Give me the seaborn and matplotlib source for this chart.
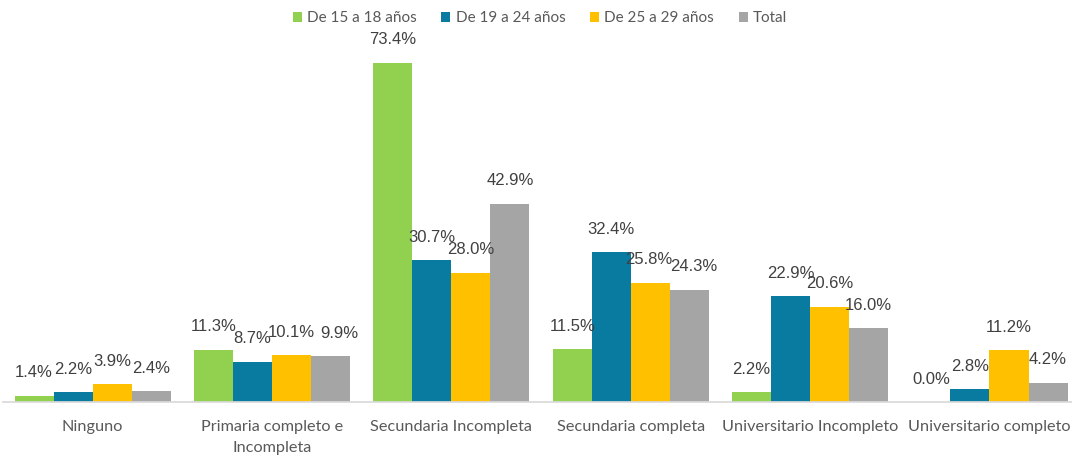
import matplotlib
matplotlib.use("Agg")
import matplotlib.pyplot as plt
import seaborn as sns
import pandas as pd

categories = ["Ninguno", "Primaria completo e\nIncompleta", "Secundaria Incompleta",
              "Secundaria completa", "Universitario Incompleto", "Universitario completo"]
series = ["De 15 a 18 años", "De 19 a 24 años", "De 25 a 29 años", "Total"]
v_15_18 = [1.4, 11.3, 73.4, 11.5, 2.2, 0.0]
v_19_24 = [2.2, 8.7, 30.7, 32.4, 22.9, 2.8]
v_25_29 = [3.9, 10.1, 28.0, 25.8, 20.6, 11.2]
v_total = [2.4, 9.9, 42.9, 24.3, 16.0, 4.2]
colors = ["#92D050", "#0A7BA0", "#FFC000", "#A5A5A5"]

rows = []
for s, vals in zip(series, [v_15_18, v_19_24, v_25_29, v_total]):
    for c, v in zip(categories, vals):
        rows.append({"cat": c, "serie": s, "val": v})
df = pd.DataFrame(rows)

sns.set_theme(style="white")
plt.rcParams['font.family'] = ['Lato', 'DejaVu Sans']

fig = plt.figure(figsize=(10.72, 4.57), dpi=100)
ax = fig.add_axes([3/1072, 55/457, 1069/1072, 370/457])
sns.barplot(data=df, x="cat", y="val", hue="serie", order=categories, hue_order=series,
            palette=colors, width=0.87, gap=0, saturation=1, ax=ax, legend=True,
            errorbar=None, linewidth=0, edgecolor="none")
ax.set_xlim(-0.5, 5.46)
ax.set_ylim(0, 80)
for cont in ax.containers:
    ax.bar_label(cont, labels=[f"{b.get_height():.1f}%" for b in cont], padding=11,
                 fontsize=12, color="#404040", family="Liberation Sans")
# Nudge crowded labels sideways (offset points), as Excel does in the reference
nudges = {"9.9%": 6, "24.3%": 3, "25.8%": -1}
for t in ax.texts:
    if t.get_text() in nudges:
        x0, y0 = t.xyann
        t.xyann = (x0 + nudges[t.get_text()], y0)
for sp in ["top", "left", "right"]:
    ax.spines[sp].set_visible(False)
ax.spines["bottom"].set_color("#D9D9D9")
ax.set_yticks([])
ax.set_xlabel("")
ax.set_ylabel("")
ax.tick_params(axis="x", length=0, pad=13, labelsize=11.7, labelcolor="#595959")
for lab in ax.get_xticklabels():
    lab.set_linespacing(1.6)
h, l = ax.get_legend_handles_labels()
ax.legend(h, l, loc="upper center", bbox_to_anchor=(540/1072, 1.005), bbox_transform=fig.transFigure,
          ncol=4, frameon=False, fontsize=11, handlelength=0.6, handleheight=0.6,
          columnspacing=1.6, handletextpad=0.35, labelcolor="#595959")
fig.savefig("out.png", dpi=100)
